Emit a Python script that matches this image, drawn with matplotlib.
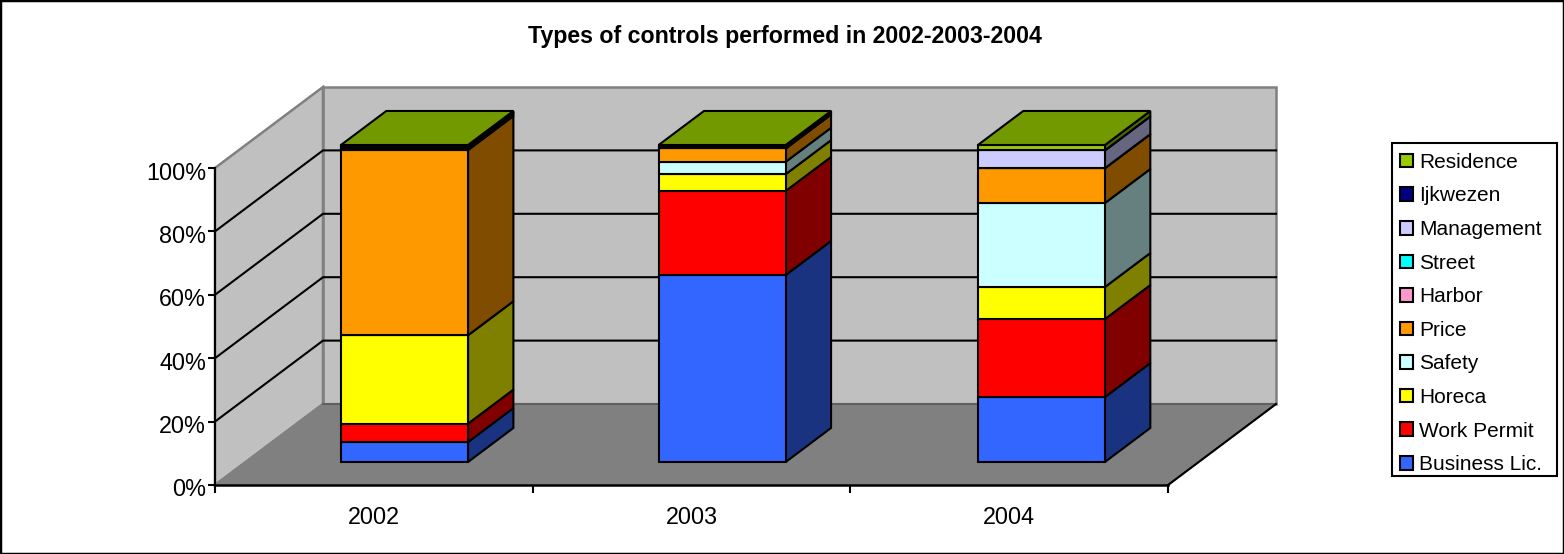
import matplotlib
matplotlib.use("Agg")
import matplotlib.pyplot as plt
from matplotlib.patches import Patch, Polygon, Rectangle
from matplotlib.transforms import ScaledTranslation

plt.rcParams['font.family'] = ['Liberation Sans', 'DejaVu Sans']

years = ['2002', '2003', '2004']
series_names = ['Business Lic.', 'Work Permit', 'Horeca', 'Safety', 'Price',
                'Harbor', 'Street', 'Management', 'Ijkwezen', 'Residence']
business = [6.3, 59.0, 20.5]
work_permit = [5.8, 26.5, 24.6]
horeca = [27.9, 5.3, 10.1]
safety = [0.0, 3.9, 26.5]
price = [58.4, 4.2, 11.0]
harbor = [0.4, 0.0, 0.0]
street = [0.4, 0.55, 0.0]
management = [0.4, 0.0, 5.6]
ijkwezen = [0.4, 0.55, 0.0]
residence = [0.0, 0.0, 1.7]
series_values = [business, work_permit, horeca, safety, price,
                 harbor, street, management, ijkwezen, residence]
colors = ['#3366FF', '#FF0000', '#FFFF00', '#CCFFFF', '#FF9900',
          '#FF99CC', '#00FFFF', '#CCCCFF', '#000080', '#99CC00']
y_ticks = [0, 20, 40, 60, 80, 100]

W, H = 1564, 554
fig = plt.figure(figsize=(W / 100, H / 100), dpi=100)
fig.patch.set_facecolor('white')
fig.add_artist(Rectangle((0, 0), 1, 1, transform=fig.transFigure, fill=False,
                         edgecolor='black', linewidth=2.5))

# axes = front plane of the box, depth is faked with a shear
ax = fig.add_axes([215 / W, 1 - 485 / H, 953 / W, 317 / H])
ax.set_xlim(0, 3)
ax.set_ylim(0, 100)
ax.patch.set_visible(False)

# how far one full unit of depth moves a point, in data units
depth_x = 108 / 953 * 3
depth_y = 81 / 317 * 100


def proj(x, y, d):
    return (x + d * depth_x, y + d * depth_y)


def poly(points, face, edge='black', lw=1.5, z=2):
    ax.add_patch(Polygon(points, closed=True, facecolor=face, edgecolor=edge,
                         linewidth=lw, clip_on=False, zorder=z, joinstyle='miter'))


def shade(color, k):
    r, g, b = matplotlib.colors.to_rgb(color)
    return (r * k, g * k, b * k)


# walls and floor
gray = '#808080'
poly([proj(0, 0, 1), proj(3, 0, 1), proj(3, 100, 1), proj(0, 100, 1)], '#C0C0C0', gray, 1.8, 1)
poly([proj(0, 0, 0), proj(0, 0, 1), proj(0, 100, 1), proj(0, 100, 0)], '#C0C0C0', gray, 1.8, 1)
poly([proj(0, 0, 0), proj(3, 0, 0), proj(3, 0, 1), proj(0, 0, 1)], gray, gray, 1.5, 1)
xs, ys = zip(proj(0, 0, 1), proj(3, 0, 1))
ax.plot(xs, ys, color='#606060', lw=1.5, clip_on=False, zorder=1.2)

# gridlines on left and back wall
for t in y_ticks[1:-1]:
    xs, ys = zip(proj(0, t, 0), proj(0, t, 1), proj(3, t, 1))
    ax.plot(xs, ys, color='black', lw=1.5, clip_on=False, zorder=1.5)
# floor right edge
xs, ys = zip(proj(3, 0, 0), proj(3, 0, 1))
ax.plot(xs, ys, color='black', lw=1.5, clip_on=False, zorder=1.5)

# bars
bar_w = 0.4
bar_centers = [0.5, 1.5, 2.505]
d0, d1 = 0.284, 0.704
for i in range(len(years)):
    left = bar_centers[i] - bar_w / 2
    right = left + bar_w
    bottom = 0
    for j, vals in enumerate(series_values):
        top = bottom + vals[i]
        poly([proj(right, bottom, d0), proj(right, bottom, d1),
              proj(right, top, d1), proj(right, top, d0)], shade(colors[j], 0.5), z=3 + j * 0.01)
        poly([proj(left, bottom, d0), proj(right, bottom, d0),
              proj(right, top, d0), proj(left, top, d0)], colors[j], z=3 + j * 0.01)
        bottom = top
    poly([proj(left, bottom, d0), proj(right, bottom, d0),
          proj(right, bottom, d1), proj(left, bottom, d1)], shade(colors[-1], 0.75), z=3.5)

# axes
ax.spines['top'].set_visible(False)
ax.spines['right'].set_visible(False)
ax.spines['left'].set_linewidth(1.5)
ax.spines['bottom'].set_linewidth(1.8)
ax.spines['left'].set_zorder(6)
ax.spines['bottom'].set_zorder(6)
ax.set_yticks(y_ticks)
ax.set_yticklabels([f'{t}%' for t in y_ticks], fontsize=16.8)
ax.set_xticks([0, 1, 2, 3])
ax.set_xticklabels([])
ax.set_xticks([0.5, 1.5, 2.5], labels=years, minor=True, fontsize=16.8)
ax.tick_params(axis='x', which='minor', length=0, pad=15)
ax.tick_params(axis='x', which='major', length=6, width=1.5)
ax.tick_params(axis='y', which='major', length=5, width=1.5, pad=1.5)
nudge = ScaledTranslation(0, -1.8 / 72, fig.dpi_scale_trans)
for label in ax.get_yticklabels():
    label.set_transform(label.get_transform() + nudge)

fig.text(784.5 / W, 1 - 36 / H, 'Types of controls performed in 2002-2003-2004',
         ha='center', va='center', fontsize=16.7, fontweight='bold')

handles = [Patch(facecolor=c, edgecolor='black', linewidth=1.5) for c in colors]
order = list(range(len(colors)))[::-1]
leg = fig.legend([handles[i] for i in order], [series_names[i] for i in order],
                 loc='upper left', bbox_to_anchor=(1392 / W, 1 - 145 / H),
                 bbox_transform=fig.transFigure, frameon=False, fontsize=15.0,
                 ncol=1, borderaxespad=0, handlelength=0.63, handleheight=0.63,
                 handletextpad=0.28, labelspacing=0.70, borderpad=0.38)
fig.add_artist(Rectangle((1392 / W, 1 - 476 / H), 165 / W, 333 / H, transform=fig.transFigure,
                         facecolor='white', edgecolor='black', linewidth=1.5, zorder=1))
leg.set_zorder(5)

fig.savefig('out.png', dpi=100)
